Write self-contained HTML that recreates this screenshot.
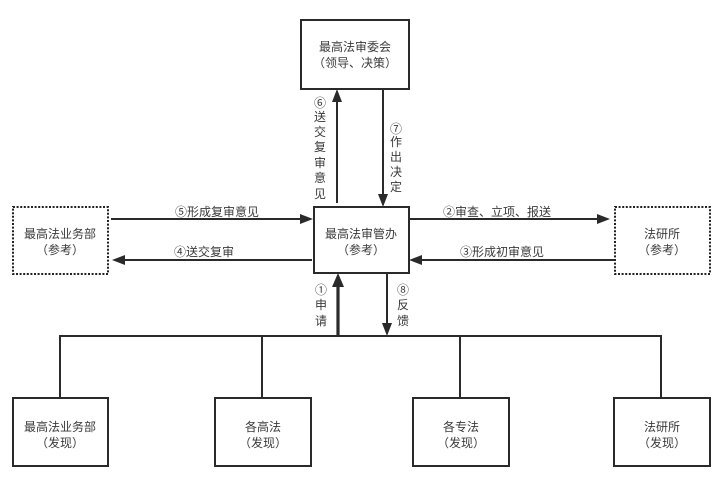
<!DOCTYPE html>
<html><head><meta charset="utf-8"><style>
html,body{margin:0;padding:0;background:#fff;}
svg{display:block;}
text{font-family:"Liberation Sans","Noto Sans CJK SC",sans-serif;font-size:12px;fill:#3a3a3a;}
</style></head><body>
<svg width="724" height="484" viewBox="0 0 724 484" xmlns="http://www.w3.org/2000/svg">
<rect width="724" height="484" fill="#fff"/>
<g fill="none" stroke="#2a2a2a" stroke-width="2">
  <rect x="301" y="20" width="108" height="69"/>
  <rect x="314" y="207" width="95" height="66"/>
  <rect x="13" y="398" width="95" height="68"/>
  <rect x="215" y="398" width="96" height="68"/>
  <rect x="413" y="398" width="96" height="68"/>
  <rect x="614" y="398" width="96" height="68"/>
  <path d="M60 336 H661 M60 335 V398 M262 335 V398 M460 335 V398 M661 335 V398"/>
  <path d="M337 203 V100"/>
  <path d="M383 89 V195"/>
  <path d="M111 219 H301"/>
  <path d="M312 260 H124"/>
  <path d="M409 219 H599"/>
  <path d="M614 260 H421"/>
  <path d="M387 273 V324"/>
</g>
<path d="M338 336 V285" stroke="#2a2a2a" stroke-width="3.2" fill="none"/>
<g fill="#2a2a2a">
  <polygon points="337,89 332,102 342,102"/>
  <polygon points="383,207 378,194 388,194"/>
  <polygon points="313,219 300,214 300,224"/>
  <polygon points="112,260 125,255 125,265"/>
  <polygon points="610,219 597,214 597,224"/>
  <polygon points="409,260 422,255 422,265"/>
  <polygon points="387,336 382,323 392,323"/>
  <polygon points="338,273 332,287 344,287"/>
</g>
<g fill="none" stroke="#222" stroke-width="2" stroke-dasharray="2 1.6">
  <rect x="13" y="207" width="95" height="67"/>
  <rect x="615" y="207" width="95" height="67"/>
</g>
<g text-anchor="middle">
  <text x="355" y="51">最高法审委会</text>
  <text x="355" y="67">（领导、决策）</text>
  <text x="361" y="238">最高法审管办</text>
  <text x="361" y="254">（参考）</text>
  <text x="60" y="238">最高法业务部</text>
  <text x="60" y="254">（参考）</text>
  <text x="662" y="238">法研所</text>
  <text x="662" y="254">（参考）</text>
  <text x="60" y="431">最高法业务部</text>
  <text x="60" y="447">（发现）</text>
  <text x="263" y="431">各高法</text>
  <text x="263" y="447">（发现）</text>
  <text x="461" y="431">各专法</text>
  <text x="461" y="447">（发现）</text>
  <text x="662" y="431">法研所</text>
  <text x="662" y="447">（发现）</text>
  <text x="217" y="216">⑤形成复审意见</text>
  <text x="204" y="256">④送交复审</text>
  <text x="497" y="216">②审查、立项、报送</text>
  <text x="502" y="256">③形成初审意见</text>
  <text x="320" y="107">⑥</text>
  <text x="320" y="121">送</text>
  <text x="320" y="136">交</text>
  <text x="320" y="151">复</text>
  <text x="320" y="167">审</text>
  <text x="320" y="182">意</text>
  <text x="320" y="198">见</text>
  <text x="396" y="133">⑦</text>
  <text x="396" y="146">作</text>
  <text x="396" y="161">出</text>
  <text x="396" y="176">决</text>
  <text x="396" y="191">定</text>
  <text x="321" y="294">①</text>
  <text x="321" y="309">申</text>
  <text x="321" y="325">请</text>
  <text x="403" y="294">⑧</text>
  <text x="403" y="309">反</text>
  <text x="403" y="325">馈</text>
</g>
</svg>
</body></html>
